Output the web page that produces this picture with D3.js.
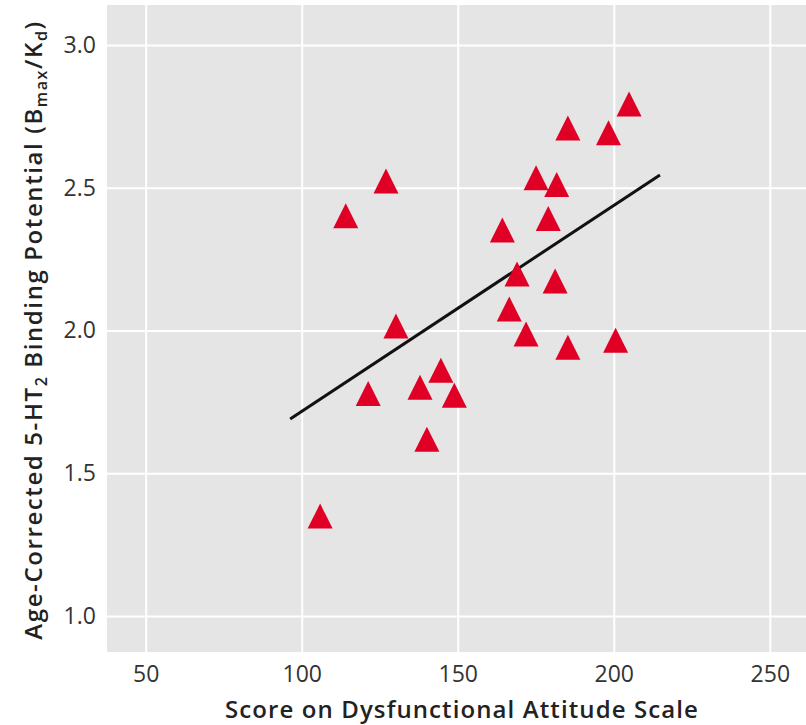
<html>
<head>
  <meta charset="utf-8">
  <title>5-HT2 binding vs dysfunctional attitudes</title>
</head>
<style>
  body { margin: 0; background: #fff; }
  text { font-family: "Open Sans", "Noto Sans", sans-serif; }
</style>
<body>
  <div id="chart"></div>
</body>
<script src="https://cdn.jsdelivr.net/npm/d3@7"></script>
<script>

  // data
  const dasScore = [204.9, 185.3, 198.3, 127.0, 175.1, 181.7, 114.1, 179.0, 164.3, 169.0, 181.2,
    166.5, 130.2, 171.9, 185.3, 200.6, 121.3, 137.9, 144.6, 148.9, 140.1, 105.9]
  const bindingPotential = [2.793, 2.709, 2.693, 2.524, 2.535, 2.511, 2.402, 2.392, 2.352, 2.198, 2.173,
    2.075, 2.016, 1.988, 1.941, 1.966, 1.779, 1.801, 1.861, 1.773, 1.619, 1.350]
  const fitX = [96.3, 214.8]
  const fitY = [1.690, 2.545]
  const xTicks = [50, 100, 150, 200, 250]
  const yTicks = [1.0, 1.5, 2.0, 2.5, 3.0]

  const width = 806
  const height = 725
  const margin = { top: 5, right: 0, bottom: 73, left: 107 }
  const plotW = width - margin.left - margin.right
  const plotH = height - margin.top - margin.bottom

  const x = d3.scaleLinear().domain([37.6, 261.6]).range([0, plotW])
  const y = d3.scaleLinear().domain([0.874, 3.14]).range([plotH, 0])

  const svg = d3.select("#chart")
    .append("svg")
    .attr("width", width)
    .attr("height", height)

  const g = svg.append("g")
    .attr("transform", `translate(${margin.left},${margin.top})`)

  g.append("rect")
    .attr("width", plotW)
    .attr("height", plotH)
    .attr("fill", "#e5e5e5")

  // grid + tick labels
  const xAxis = g.append("g")
    .attr("transform", `translate(0,${plotH})`)
    .call(d3.axisBottom(x).tickValues(xTicks).tickSize(-plotH).tickPadding(10).tickFormat(d3.format("d")))
  const yAxis = g.append("g")
    .call(d3.axisLeft(y).tickValues(yTicks).tickSize(-plotW).tickPadding(10).tickFormat(d3.format(".1f")))

  for (const ax of [xAxis, yAxis]) {
    ax.select(".domain").remove()
    ax.selectAll(".tick line").attr("stroke", "#fff").attr("stroke-width", 2)
    ax.selectAll(".tick text")
      .attr("fill", "#333")
      .style("font-size", "23px")
      .style("font-family", '"Open Sans", sans-serif')
  }
  xAxis.selectAll(".tick text").attr("dy", "0.85em")
  yAxis.selectAll(".tick text").attr("dx", "-0.05em")

  // regression line
  const line = d3.line().x(d => x(d[0])).y(d => y(d[1]))
  g.append("path")
    .datum(d3.zip(fitX, fitY))
    .attr("d", line)
    .attr("fill", "none")
    .attr("stroke", "#111")
    .attr("stroke-width", 3)

  // points (triangles)
  const tw = 25, th = 25
  const tri = `M0,${-th / 2}L${tw / 2},${th / 2}L${-tw / 2},${th / 2}Z`
  g.append("g")
    .selectAll("path")
    .data(d3.zip(dasScore, bindingPotential))
    .enter().append("path")
    .attr("d", tri)
    .attr("transform", d => `translate(${x(d[0])},${y(d[1])})`)
    .attr("fill", "#e00025")

  // axis titles
  svg.append("text")
    .attr("x", 462)
    .attr("y", 718)
    .attr("text-anchor", "middle")
    .attr("fill", "#222")
    .style("font-size", "24px")
    .style("font-weight", 600)
    .style("letter-spacing", "1.1px")
    .text("Score on Dysfunctional Attitude Scale")

  const yt = svg.append("text")
    .attr("transform", `translate(42,${330}) rotate(-90)`)
    .attr("text-anchor", "middle")
    .attr("fill", "#222")
    .style("font-size", "24px")
    .style("font-weight", 600)
    .style("letter-spacing", "1.6px")
  yt.append("tspan").text("Age-Corrected 5-HT")
  yt.append("tspan").attr("dy", 5).style("font-size", "16px").text("2")
  yt.append("tspan").attr("dy", -5).text(" Binding Potential (B")
  yt.append("tspan").attr("dy", 5).style("font-size", "16px").text("max")
  yt.append("tspan").attr("dy", -5).text("/K")
  yt.append("tspan").attr("dy", 5).style("font-size", "16px").text("d")
  yt.append("tspan").attr("dy", -5).text(")")

</script>
</html>
